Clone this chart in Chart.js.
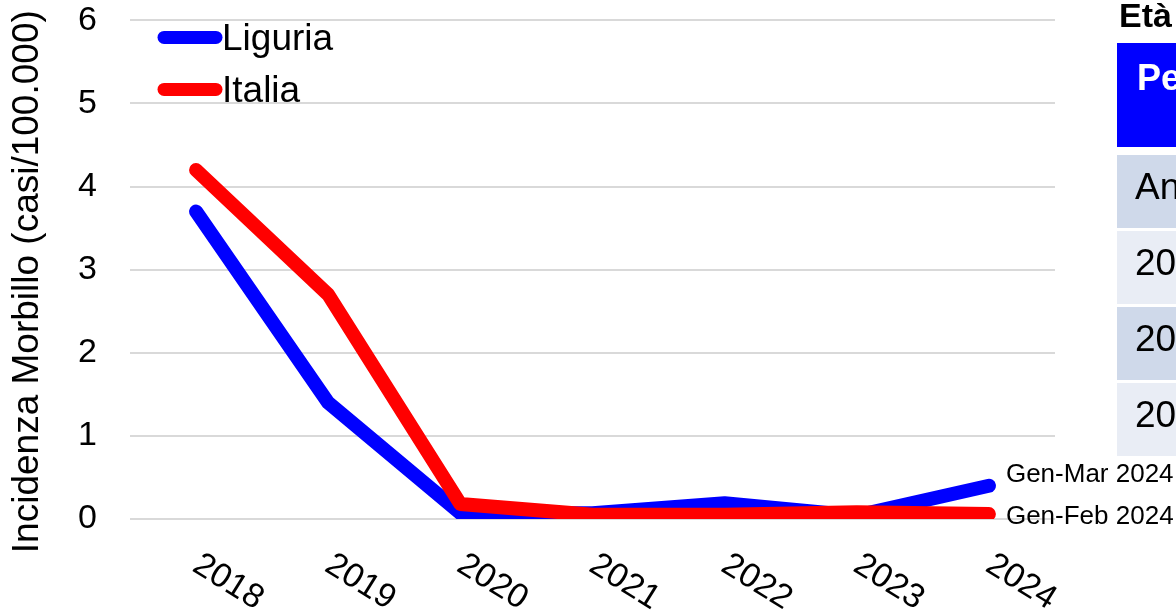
<!DOCTYPE html>
<html lang="it">
<head>
<meta charset="utf-8">
<script src="https://cdn.jsdelivr.net/npm/chart.js@4"></script>
<style>
  html, body { margin: 0; padding: 0; background: #fff; overflow: hidden; }
  #wrap { position: relative; width: 1176px; height: 616px; overflow: hidden; }
  #box { position: absolute; left: 0; top: -33px; width: 1176px; height: 649px; }
  #tabella {
    position: absolute; left: 1117px; top: 0; width: 420px;
    font-family: "Liberation Sans", Arial, sans-serif;
  }
  #tabella .titolo { font-weight: bold; font-size: 34px; line-height: 30px; padding: 0 0 0 2px; height: 43px; box-sizing: border-box; white-space: nowrap; }
  #tabella .testa { background: #0000ff; color: #fff; font-weight: bold; font-size: 36px; height: 104px; box-sizing: border-box; padding: 14px 0 0 20px; white-space: nowrap; }
  #tabella .riga { height: 73px; margin-top: 3px; box-sizing: border-box; padding: 11px 0 0 18px; font-size: 37px; white-space: nowrap; }
  #tabella .riga.prima { margin-top: 8px; }
  #tabella .scura { background: #cfd9ea; }
  #tabella .chiara { background: #e9edf5; }
</style>
</head>
<body>
<div id="wrap">
  <div id="box"><canvas id="grafico"></canvas></div>
  <div id="tabella"></div>
</div>
<script>
// Dati
const anni = ["2018", "2019", "2020", "2021", "2022", "2023", "2024"];
const liguria = [3.7, 1.4, 0.07, 0.07, 0.19, 0.04, 0.4];
const italia = [4.2, 2.7, 0.18, 0.05, 0.05, 0.08, 0.06];
const noteFinali = ["Gen-Mar 2024", "Gen-Feb 2024"];
const titoloY = "Incidenza Morbillo (casi/100.000)";

// Tabella laterale (tagliata dal bordo della finestra)
const tabTitolo = "Età mediana dei casi";
const tabIntestazione = "Periodo";
const tabRighe = ["Anno", "2022", "2023", "2024"];

const FONT = "'Liberation Sans', Arial, sans-serif";

const tab = document.getElementById("tabella");
tab.innerHTML =
  '<div class="titolo">' + tabTitolo + '</div>' +
  '<div class="testa">' + tabIntestazione + '</div>' +
  tabRighe.map((r, i) =>
    '<div class="riga ' + (i === 0 ? 'prima ' : '') + (i % 2 === 0 ? 'scura' : 'chiara') + '">' + r + '</div>'
  ).join("");

// Titolo asse Y, legenda, etichette asse X ruotate e note finali
const extraPlugin = {
  id: "extra",
  afterDraw(chart) {
    const ctx = chart.ctx;
    const xs = chart.scales.x;
    const area = chart.chartArea;
    ctx.save();

    // titolo asse Y (un po' sotto il centro, come nell'originale)
    ctx.fillStyle = "#000";
    ctx.font = "37px " + FONT;
    ctx.textAlign = "center";
    ctx.textBaseline = "middle";
    ctx.save();
    ctx.translate(28, (area.top + area.bottom) / 2 + 12);
    ctx.rotate(-Math.PI / 2);
    ctx.fillText(titoloY, 0, 0);
    ctx.restore();

    // etichette anni ruotate in senso orario
    ctx.font = "34px " + FONT;
    anni.forEach((a, i) => {
      const px = xs.getPixelForTick(i);
      ctx.save();
      ctx.translate(px + 32, area.bottom + 63);
      ctx.rotate(32 * Math.PI / 180);
      ctx.fillText(a, 0, 0);
      ctx.restore();
    });

    // legenda
    chart.data.datasets.forEach((ds, i) => {
      const y = area.top + 17 + i * 52;
      ctx.strokeStyle = ds.borderColor;
      ctx.lineWidth = 13;
      ctx.lineCap = "round";
      ctx.beginPath();
      ctx.moveTo(164, y);
      ctx.lineTo(216, y);
      ctx.stroke();
      ctx.fillStyle = "#000";
      ctx.font = "37px " + FONT;
      ctx.textAlign = "left";
      ctx.textBaseline = "middle";
      ctx.fillText(ds.label, 222, y + 2);
    });

    // note accanto all'ultimo punto
    const offs = [-11, 3];
    chart.data.datasets.forEach((ds, i) => {
      const pt = chart.getDatasetMeta(i).data[ds.data.length - 1];
      ctx.fillStyle = "#000";
      ctx.font = "26px " + FONT;
      ctx.textAlign = "left";
      ctx.textBaseline = "middle";
      ctx.fillText(noteFinali[i], pt.x + 17, pt.y + offs[i]);
    });
    ctx.restore();
  }
};

new Chart(document.getElementById("grafico"), {
  type: "line",
  data: {
    labels: anni,
    datasets: [
      // l'Italia va disegnata sopra la Liguria
      { label: "Liguria", data: liguria, borderColor: "#0000ff", backgroundColor: "#0000ff", order: 2 },
      { label: "Italia", data: italia, borderColor: "#ff0000", backgroundColor: "#ff0000", order: 1 }
    ]
  },
  options: {
    responsive: true,
    maintainAspectRatio: false,
    devicePixelRatio: 1,
    animation: false,
    layout: { padding: { top: 0, right: 121, left: 0, bottom: 0 } },
    elements: {
      line: { borderWidth: 14, tension: 0, borderCapStyle: "round", borderJoinStyle: "round" },
      point: { radius: 0, hoverRadius: 0 }
    },
    plugins: {
      legend: { display: false },
      tooltip: { enabled: false }
    },
    scales: {
      x: {
        offset: true,
        grid: { display: false, drawTicks: false },
        border: { display: false },
        ticks: { display: false },
        afterFit: (s) => { s.height = 97; }
      },
      y: {
        min: 0,
        max: 6,
        ticks: { stepSize: 1, color: "#000", font: { family: FONT, size: 34 }, padding: 33 },
        grid: { color: "#d9d9d9", lineWidth: 2, drawTicks: false },
        border: { display: false },
        title: { display: false },
        afterFit: (s) => { s.width = 130; }
      }
    }
  },
  plugins: [extraPlugin]
});
</script>
</body>
</html>
